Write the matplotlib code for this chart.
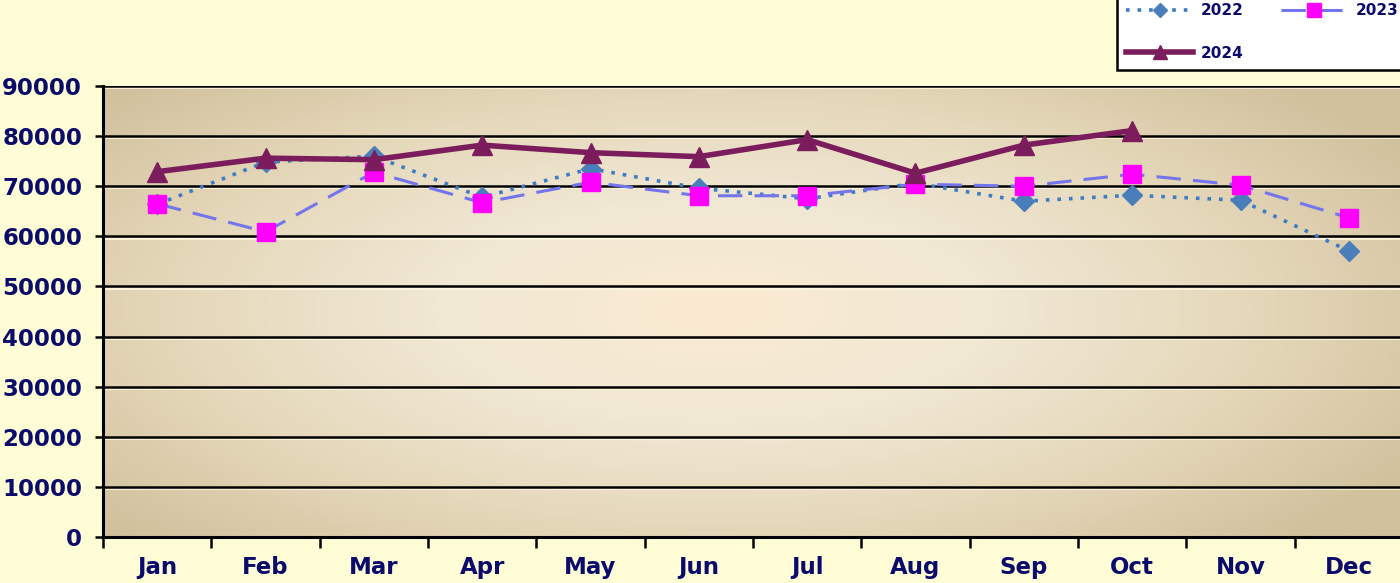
import matplotlib
matplotlib.use("Agg")
import matplotlib.pyplot as plt
import matplotlib.transforms as mtransforms
from matplotlib.colors import LinearSegmentedColormap
import numpy as np

months = ["Jan", "Feb", "Mar", "Apr", "May", "Jun",
          "Jul", "Aug", "Sep", "Oct", "Nov", "Dec"]
y2022 = [66400, 74800, 76000, 67800, 73500, 69600,
         67500, 70600, 67000, 68200, 67200, 57100]
y2023 = [66500, 60900, 72800, 66700, 70800, 68100,
         68100, 70400, 70000, 72400, 70200, 63700]
y2024 = [72900, 75600, 75300, 78200, 76700, 75900,
         79300, 72600, 78200, 81100]
yticks = list(range(0, 90001, 10000))

NAVY = "#0B0B6B"
BG = "#FEFDD6"

plt.rcParams.update({
    "font.family": "DejaVu Sans",
    "font.weight": "bold",
})

fig = plt.figure(figsize=(14, 5.83), dpi=100, facecolor=BG)
ax = fig.add_axes([103 / 1400, 1 - 537 / 583, 1300 / 1400, 451 / 583])
ax.set_facecolor("#E8DCC0")

# radial gradient plot area
gx, gy = np.meshgrid(np.linspace(0, 1, 400), np.linspace(0, 1, 200))
r = np.sqrt(((gx - 0.47) / 0.62) ** 2 + ((gy - 0.5) / 0.72) ** 2)
r = np.clip(r, 0, 1)
cmap = LinearSegmentedColormap.from_list(
    "bg", ["#FBEAD1", "#F1E8D5", "#E5D8BA", "#D1C19D"])
ax.imshow(r, cmap=cmap, extent=[0, 1, 0, 1], transform=ax.transAxes,
          aspect="auto", zorder=0, interpolation="bilinear")

x = np.arange(len(months))

# gridlines with light highlight underneath
hl = mtransforms.offset_copy(ax.get_yaxis_transform(), fig=fig, x=0, y=-2.2, units="dots")
for v in yticks[1:]:
    ax.plot([0, 1], [v, v], transform=hl, color="#FFF8E0", lw=1.2, zorder=1)
    ax.axhline(v, color="black", lw=1.8, zorder=1.5)

l22, = ax.plot(x, y2022, linestyle=(0, (1, 2.2)), color="#3D7CC4", lw=2.6,
               marker="D", markersize=10, markerfacecolor="#4A7EBB",
               markeredgecolor="#4A7EBB", label="2022", zorder=3)
l23, = ax.plot(x, y2023, linestyle=(0, (8, 4)), color="#7474EC", lw=2.2,
               marker="s", markersize=13, markerfacecolor="#FF00FF",
               markeredgecolor="#FF00FF", label="2023", zorder=4)
l24, = ax.plot(x[:len(y2024)], y2024, linestyle="-", color="#7B1C5C", lw=4,
               marker="^", markersize=14, markerfacecolor="#7B1C5C",
               markeredgecolor="#7B1C5C", label="2024", zorder=5)

ax.set_xlim(-0.5, len(months) - 0.5)
ax.set_ylim(0, 90000)
ax.set_yticks(yticks)
ax.set_yticklabels([str(v) for v in yticks])
ax.set_xticks(np.arange(-0.5, len(months), 1.0))
ax.set_xticklabels([])
ax.set_xticks(x, minor=True)
ax.set_xticklabels(months, minor=True)

ax.tick_params(axis="y", length=6, width=1.8, color="black", pad=9,
               labelsize=16.5, labelcolor=NAVY)
ax.tick_params(axis="x", which="major", length=8, width=1.8, color="black")
ax.tick_params(axis="x", which="minor", length=0, pad=14,
               labelsize=16.5, labelcolor=NAVY)
for lab in ax.get_yticklabels() + ax.get_xticklabels(minor=True):
    lab.set_fontweight("bold")

for s in ["top", "right"]:
    ax.spines[s].set_visible(False)
for s in ["left", "bottom"]:
    ax.spines[s].set_linewidth(2.2)
    ax.spines[s].set_color("black")

leg = fig.legend([l22, l24, l23], ["2022", "2024", "2023"], ncol=2,
                 loc="upper left", bbox_to_anchor=(1117 / 1400, 1 + 6 / 583),
                 borderaxespad=0,
                 frameon=True, fancybox=False, edgecolor="black",
                 facecolor="white", framealpha=1, borderpad=0.6,
                 labelspacing=1.8, handlelength=4.4, handletextpad=0.5,
                 columnspacing=2.4, markerscale=0.75,
                 prop={"weight": "bold", "size": 11})
leg.get_frame().set_linewidth(1.8)
for t in leg.get_texts():
    t.set_color(NAVY)

fig.savefig("out.png", dpi=100, facecolor=BG)
